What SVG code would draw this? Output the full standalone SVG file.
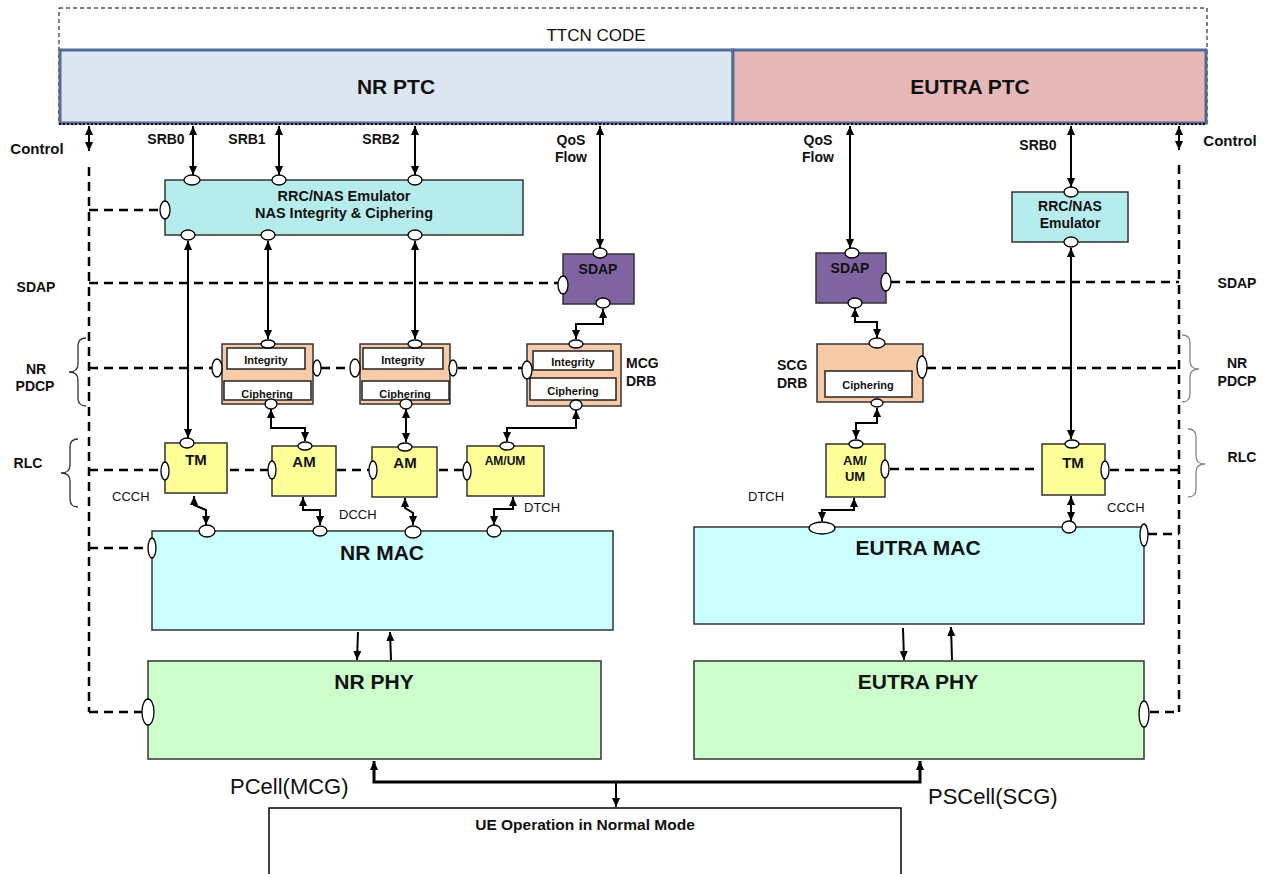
<svg xmlns="http://www.w3.org/2000/svg" width="1268" height="874" viewBox="0 0 1268 874">
<defs>
<marker id="ah" viewBox="0 0 10 10" refX="10" refY="5" markerWidth="9" markerHeight="9" markerUnits="userSpaceOnUse" orient="auto-start-reverse"><path d="M0,0.5 L10,5 L0,9.5 z" fill="#000"/></marker>
<style>
text{font-family:"Liberation Sans",Arial,sans-serif;fill:#111}
.b{font-weight:bold}
.lbl{font-size:14px;font-weight:bold;text-anchor:middle}
.big{font-size:21px;font-weight:bold;text-anchor:middle}
.ch{font-size:13px}
.box{stroke:#333;stroke-width:1.5}
.port{fill:#fff;stroke:#000;stroke-width:1.3}
.arr{fill:none;stroke:#000;stroke-width:2;marker-start:url(#ah);marker-end:url(#ah)}
.one{fill:none;stroke:#000;stroke-width:2;marker-end:url(#ah)}
.dash{fill:none;stroke:#000;stroke-width:2.5;stroke-dasharray:9,6}
.brace{fill:none;stroke:#333;stroke-width:1.3}
.rlc{fill:#ffff99}
.pdcp{fill:#f8cba8}
.inner{fill:#fff;stroke:#222;stroke-width:1.5}
.in{font-size:11px;font-weight:bold;text-anchor:middle}
</style>
</defs>

<g id="ttcn">
<rect x="59" y="8" width="1148" height="116" fill="none" stroke="#000" stroke-width="1" stroke-dasharray="4,3"/>
<text x="596" y="41" font-size="17" text-anchor="middle">TTCN CODE</text>
</g>
<g id="nr-ptc">
<rect x="60" y="50" width="673" height="73" fill="#dce6f1" stroke="#4f6d96" stroke-width="3"/>
<text class="big" x="396" y="94">NR PTC</text>
</g>
<g id="eutra-ptc">
<rect x="733" y="50" width="473" height="73" fill="#e6b9b8" stroke="#4f6d96" stroke-width="3"/>
<text class="big" x="970" y="94">EUTRA PTC</text>
</g>
<line x1="59" y1="124" x2="1207" y2="124" stroke="#000" stroke-width="2" stroke-dasharray="2,2"/>

<g id="labels">
<text class="lbl" x="37" y="154" font-size="15" style="font-size:15px">Control</text>
<text class="lbl" x="1230" y="146" style="font-size:15px">Control</text>
<text class="lbl" x="166" y="144">SRB0</text>
<text class="lbl" x="247" y="144">SRB1</text>
<text class="lbl" x="381" y="144">SRB2</text>
<text class="lbl" x="571" y="145">QoS</text>
<text class="lbl" x="571" y="162">Flow</text>
<text class="lbl" x="818" y="145">QoS</text>
<text class="lbl" x="818" y="162">Flow</text>
<text class="lbl" x="1038" y="150">SRB0</text>
<text class="lbl" x="36" y="292">SDAP</text>
<text class="lbl" x="1237" y="288">SDAP</text>
<text class="lbl" x="36" y="374">NR</text>
<text class="lbl" x="35" y="391">PDCP</text>
<text class="lbl" x="28" y="468">RLC</text>
<text class="lbl" x="1237" y="368">NR</text>
<text class="lbl" x="1237" y="386">PDCP</text>
<text class="lbl" x="1242" y="462">RLC</text>
<text class="lbl" x="626" y="368" style="text-anchor:start">MCG</text>
<text class="lbl" x="626" y="386" style="text-anchor:start">DRB</text>
<text class="lbl" x="777" y="370" style="text-anchor:start">SCG</text>
<text class="lbl" x="777" y="388" style="text-anchor:start">DRB</text>
<text class="ch" x="112" y="501">CCCH</text>
<text class="ch" x="339" y="519">DCCH</text>
<text class="ch" x="524" y="512">DTCH</text>
<text class="ch" x="748" y="501">DTCH</text>
<text class="ch" x="1107" y="512">CCCH</text>
<text x="230" y="794" font-size="22">PCell(MCG)</text>
<text x="928" y="804" font-size="22">PSCell(SCG)</text>
<path class="brace" d="M86,338 Q78,338 78,346 V364 Q78,372 69,372 Q78,372 78,380 V398 Q78,406 86,406"/>
<path class="brace" d="M78,439 Q70,439 70,447 V465 Q70,473 61,473 Q70,473 70,481 V499 Q70,507 78,507"/>
<path class="brace" d="M1182,335 Q1190,335 1190,343 V361 Q1190,369 1199,369 Q1190,369 1190,377 V394 Q1190,402 1182,402" style="stroke:#888"/>
<path class="brace" d="M1188,429 Q1196,429 1196,437 V456 Q1196,464 1205,464 Q1196,464 1196,472 V489 Q1196,497 1188,497" style="stroke:#888"/>
</g>

<g id="connectors">
<path class="dash" d="M89,167 V712 M89,210 H160 M89,283 H558 M89,368 H212 M321,368 H350 M458,368 H522 M89,470 H160 M230,470 H268 M337,470 H369 M439,470 H463 M89,548 H148 M89,712 H143"/>
<path class="dash" d="M1179,165 V712 M891,282 H1179 M927,368 H1179 M890,469 H1040 M1110,470 H1179 M1148,534 H1179 M1150,712 H1179"/>
<path class="arr" d="M89,126 V151"/>
<path class="arr" d="M1179,126 V150"/>
<path class="arr" d="M193,126 V175"/>
<path class="arr" d="M279,126 V175"/>
<path class="arr" d="M415,126 V175"/>
<path class="arr" d="M600,126 V248"/>
<path class="arr" d="M850,126 V248"/>
<path class="arr" d="M1071,126 V187"/>
<path class="arr" d="M188,241 V438"/>
<path class="arr" d="M268,241 V339"/>
<path class="arr" d="M415,241 V339"/>
<path class="arr" d="M1071,248 V439"/>
<path class="arr" d="M603,309 V324 H576 V339"/>
<path class="arr" d="M855,308 V322 H877 V338"/>
<path class="arr" d="M271,409 V428 H305 V441"/>
<path class="arr" d="M406,409 V442"/>
<path class="arr" d="M576,410 V428 H507 V441"/>
<path class="arr" d="M877,408 V423 H856 V439"/>
<path class="arr" d="M194,496 V505 L206,510 V525"/>
<path class="arr" d="M303,497 V510 H320 V525"/>
<path class="arr" d="M405,498 V508 L413,513 V525"/>
<path class="arr" d="M513,497 V509 H494 V525"/>
<path class="arr" d="M854,498 V510 H822 V521"/>
<path class="arr" d="M1071,496 V521"/>
<path class="one" d="M358,632 L357,660"/>
<path class="one" d="M391,660 L390,632"/>
<path class="one" d="M903,628 L904,660"/>
<path class="one" d="M952,660 L951,627"/>
<path class="arr" d="M374,761 V782 H920 V761" style="stroke-width:3"/>
<path class="one" d="M616,782 V807"/>
</g>

<g id="rrc-nr">
<rect class="box" x="165" y="180" width="358" height="55" fill="#b7ecec"/>
<text class="b" x="344" y="201" font-size="14.5" text-anchor="middle">RRC/NAS Emulator</text>
<text class="b" x="344" y="218" font-size="14.5" text-anchor="middle">NAS Integrity &amp; Ciphering</text>
<ellipse class="port" cx="192" cy="180" rx="8" ry="5"/>
<ellipse class="port" cx="279" cy="180" rx="7" ry="5"/>
<ellipse class="port" cx="415" cy="180" rx="7" ry="5"/>
<ellipse class="port" cx="188" cy="235" rx="7" ry="5"/>
<ellipse class="port" cx="268" cy="235" rx="7" ry="5"/>
<ellipse class="port" cx="415" cy="235" rx="7" ry="5"/>
<ellipse class="port" cx="165" cy="210" rx="5" ry="9"/>
</g>

<g id="rrc-eutra">
<rect class="box" x="1012" y="192" width="116" height="50" fill="#b7ecec"/>
<text class="b" x="1070" y="211" font-size="14" text-anchor="middle">RRC/NAS</text>
<text class="b" x="1070" y="228" font-size="14" text-anchor="middle">Emulator</text>
<ellipse class="port" cx="1071" cy="192" rx="7" ry="5"/>
<ellipse class="port" cx="1071" cy="242" rx="7" ry="5"/>
</g>

<g id="sdap-nr">
<rect class="box" x="563" y="254" width="71" height="50" fill="#8064a2"/>
<text class="lbl" x="598" y="274">SDAP</text>
<ellipse class="port" cx="600" cy="253" rx="7" ry="5"/>
<ellipse class="port" cx="603" cy="303" rx="7" ry="5"/>
<ellipse class="port" cx="563" cy="285" rx="5" ry="9"/>
</g>

<g id="sdap-eutra">
<rect class="box" x="816" y="253" width="70" height="50" fill="#8064a2"/>
<text class="lbl" x="850" y="273">SDAP</text>
<ellipse class="port" cx="852" cy="253" rx="7" ry="5"/>
<ellipse class="port" cx="855" cy="303" rx="7" ry="5"/>
<ellipse class="port" cx="886" cy="282" rx="5" ry="9"/>
</g>

<g id="pdcp-srb1">
<rect class="box pdcp" x="222" y="344" width="91" height="60"/>
<rect class="inner" x="227" y="348" width="78" height="21"/>
<text class="in" x="266" y="364">Integrity</text>
<rect class="inner" x="224" y="381" width="87" height="19"/>
<text class="in" x="267" y="398">Ciphering</text>
<ellipse class="port" cx="268" cy="344" rx="7" ry="4"/>
<ellipse class="port" cx="271" cy="404" rx="6" ry="5"/>
<ellipse class="port" cx="217" cy="368" rx="5" ry="9"/>
<ellipse class="port" cx="317" cy="368" rx="4" ry="8"/>
</g>

<g id="pdcp-srb2">
<rect class="box pdcp" x="360" y="344" width="90" height="60"/>
<rect class="inner" x="363" y="348" width="80" height="21"/>
<text class="in" x="403" y="364">Integrity</text>
<rect class="inner" x="362" y="381" width="87" height="19"/>
<text class="in" x="405" y="398">Ciphering</text>
<ellipse class="port" cx="415" cy="344" rx="7" ry="4"/>
<ellipse class="port" cx="406" cy="404" rx="6" ry="5"/>
<ellipse class="port" cx="355" cy="368" rx="5" ry="9"/>
<ellipse class="port" cx="453" cy="368" rx="4" ry="8"/>
</g>

<g id="pdcp-mcg">
<rect class="box pdcp" x="527" y="344" width="94" height="62"/>
<rect class="inner" x="533" y="351" width="80" height="19"/>
<text class="in" x="573" y="366">Integrity</text>
<rect class="inner" x="530" y="378" width="86" height="22"/>
<text class="in" x="573" y="395">Ciphering</text>
<ellipse class="port" cx="576" cy="344" rx="7" ry="4"/>
<ellipse class="port" cx="576" cy="405" rx="6" ry="5"/>
<ellipse class="port" cx="527" cy="370" rx="5" ry="9"/>
</g>

<g id="pdcp-scg">
<rect class="box pdcp" x="817" y="344" width="106" height="58"/>
<rect class="inner" x="825" y="371" width="87" height="26"/>
<text class="in" x="868" y="389">Ciphering</text>
<ellipse class="port" cx="877" cy="343" rx="8" ry="5"/>
<ellipse class="port" cx="877" cy="403" rx="6" ry="4"/>
<ellipse class="port" cx="922" cy="367" rx="5" ry="11"/>
</g>

<g id="rlc-tm-nr">
<rect class="box rlc" x="165" y="443" width="62" height="50"/>
<text class="b" x="196" y="465" font-size="15" text-anchor="middle">TM</text>
<ellipse class="port" cx="187" cy="443" rx="7" ry="5"/>
<ellipse class="port" cx="165" cy="471" rx="4" ry="9"/>
</g>
<g id="rlc-am1">
<rect class="box rlc" x="272" y="446" width="64" height="50"/>
<text class="b" x="304" y="467" font-size="15" text-anchor="middle">AM</text>
<ellipse class="port" cx="305" cy="446" rx="7" ry="4"/>
<ellipse class="port" cx="272" cy="470" rx="4" ry="9"/>
</g>
<g id="rlc-am2">
<rect class="box rlc" x="372" y="447" width="65" height="50"/>
<text class="b" x="405" y="468" font-size="15" text-anchor="middle">AM</text>
<ellipse class="port" cx="405" cy="447" rx="7" ry="4"/>
<ellipse class="port" cx="373" cy="470" rx="4" ry="9"/>
</g>
<g id="rlc-amum-nr">
<rect class="box rlc" x="467" y="446" width="77" height="50"/>
<text class="b" x="505" y="465" font-size="12" text-anchor="middle">AM/UM</text>
<ellipse class="port" cx="507" cy="446" rx="7" ry="4"/>
<ellipse class="port" cx="467" cy="471" rx="4" ry="9"/>
</g>
<g id="rlc-amum-eutra">
<rect class="box rlc" x="826" y="444" width="59" height="53"/>
<text class="b" x="855" y="465" font-size="13" text-anchor="middle">AM/</text>
<text class="b" x="855" y="481" font-size="13" text-anchor="middle">UM</text>
<ellipse class="port" cx="856" cy="444" rx="7" ry="4"/>
<ellipse class="port" cx="885" cy="469" rx="4" ry="9"/>
</g>
<g id="rlc-tm-eutra">
<rect class="box rlc" x="1042" y="444" width="63" height="51"/>
<text class="b" x="1073" y="468" font-size="15" text-anchor="middle">TM</text>
<ellipse class="port" cx="1072" cy="444" rx="7" ry="4"/>
<ellipse class="port" cx="1105" cy="470" rx="4" ry="9"/>
</g>

<g id="nr-mac">
<rect class="box" x="152" y="531" width="461" height="99" fill="#ccffff"/>
<text class="big" x="382" y="560">NR MAC</text>
<ellipse class="port" cx="207" cy="531" rx="8" ry="6"/>
<ellipse class="port" cx="320" cy="531" rx="7" ry="5"/>
<ellipse class="port" cx="413" cy="532" rx="8" ry="6"/>
<ellipse class="port" cx="494" cy="531" rx="7" ry="6"/>
<ellipse class="port" cx="152" cy="548" rx="4" ry="10"/>
</g>

<g id="nr-phy">
<rect class="box" x="148" y="661" width="453" height="98" fill="#ccffcc"/>
<text class="big" x="374" y="689">NR PHY</text>
<ellipse class="port" cx="148" cy="712" rx="6" ry="13"/>
</g>

<g id="eutra-mac">
<rect class="box" x="694" y="527" width="450" height="97" fill="#ccffff"/>
<text class="big" x="918" y="555">EUTRA MAC</text>
<ellipse class="port" cx="822" cy="528" rx="13" ry="6"/>
<ellipse class="port" cx="1069" cy="527" rx="7" ry="6"/>
<ellipse class="port" cx="1144" cy="535" rx="4" ry="11"/>
</g>

<g id="eutra-phy">
<rect class="box" x="694" y="661" width="450" height="98" fill="#ccffcc"/>
<text class="big" x="918" y="689">EUTRA PHY</text>
<ellipse class="port" cx="1144" cy="714" rx="5" ry="13"/>
</g>

<g id="ue">
<rect x="269" y="808" width="632" height="80" fill="#fff" stroke="#000" stroke-width="1.5"/>
<text class="b" x="585" y="830" font-size="15.5" text-anchor="middle">UE Operation in Normal Mode</text>
</g>
</svg>
